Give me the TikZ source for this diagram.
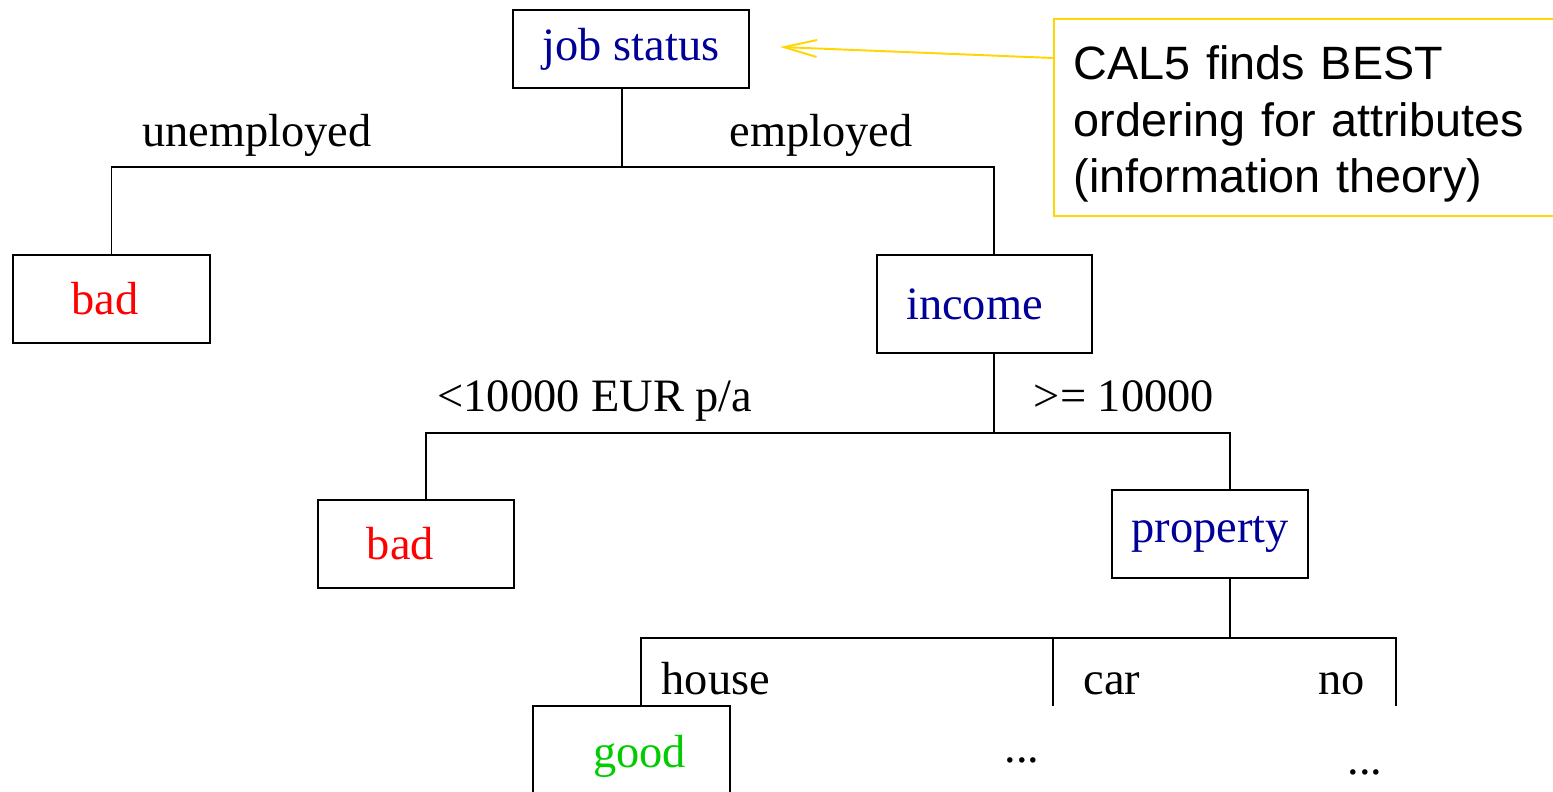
\documentclass[tikz,border=0pt]{standalone}
\usepackage{fontspec}
\setmainfont{Liberation Serif}
\newfontfamily\calfont{Liberation Sans}
\usetikzlibrary{arrows.meta,positioning}

\definecolor{jobblue}{RGB}{0,0,153}
\definecolor{goodgreen}{RGB}{0,204,0}
\definecolor{calyellow}{RGB}{255,214,0}

\begin{document}
\begin{tikzpicture}[x=0.01cm,y=0.01cm,
  font=\fontsize{13.2}{16}\selectfont,
  box/.style={draw,line width=0.6pt,minimum width=1.97cm,minimum height=0.88cm,inner sep=0pt},
  edge/.style={line width=0.45pt},
  lbl/.style={inner sep=0pt,anchor=base},
  callbox/.style={draw=calyellow,line width=0.55pt,align=left,text width=4.87cm,inner xsep=0.2cm,
    minimum height=1.97cm,font=\calfont\fontsize{13.3}{16.1}\selectfont},
  callarrow/.style={-{Straight Barb[length=0.33cm,width=0.17cm]},draw=calyellow,line width=0.55pt}]
  \useasboundingbox (0,0) rectangle (1553,-792);
  % tree nodes
  \node[box,minimum width=2.36cm,minimum height=0.78cm,text=jobblue] (js) at (631,-49) {job status};
  \node[box,text=red] (bad1) at (111.5,-299) {bad\hspace*{0.13cm}};
  \node[box,minimum width=2.15cm,minimum height=0.98cm,text=jobblue] (inc) at (984.5,-304) {income\hspace*{0.2cm}};
  \node[box,minimum width=1.96cm,text=red] (bad2) at (416,-544) {bad\hspace*{0.31cm}};
  \node[box,minimum width=1.96cm,text=jobblue] (prop) at (1210,-534) {property};
  \node[box,minimum height=1cm,text=goodgreen] (good) at (631.5,-756) {\hspace*{0.16cm}good};
  \node[lbl] (dots1) at (1022,-763) {...};
  \node[lbl] (dots2) at (1365,-775) {...};
  % branch labels
  \node[lbl] (unemp) at (257,-147) {unemployed};
  \node[lbl] (emp) at (821,-147) {employed};
  \node[lbl] (low) at (595,-412) {<10000 EUR p/a};
  \node[lbl] (high) at (1124,-412) {>= 10000};
  \node[lbl,anchor=base west] (house) at (661,-695) {house};
  \node[lbl,anchor=base west] (car) at (1083,-695) {car};
  \node[lbl,anchor=base west] (no) at (1318,-695) {no};
  % connectors
  \draw[edge] ([xshift=-0.09cm]js.south) -- ++(0,-78) coordinate (j1);
  \draw[edge] (bad1.north) |- (j1) -| ([xshift=0.095cm]inc.north);
  \draw[edge] ([xshift=0.095cm]inc.south) -- ++(0,-79) coordinate (j2);
  \draw[edge] ([xshift=0.1cm]bad2.north) |- (j2) -| ([xshift=0.2cm]prop.north);
  \draw[edge] ([xshift=0.2cm]prop.south) -- ++(0,-59) coordinate (j3);
  \coordinate (carend) at (1053,-706);
  \coordinate (noend) at (1396,-706);
  \draw[edge] ([xshift=0.095cm]good.north) |- (j3) -| (noend);
  \draw[edge] (carend) -- (carend |- j3);
  % callout
  \node[callbox,anchor=north west] (cal) at (1053,-18)
    {\rule{0pt}{13.4pt}CAL5 finds BEST\\ordering for attributes\\(information theory)};
  \coordinate (tipjs) at (780,-47);
  \draw[callarrow] ([yshift=-0.4cm]cal.north west) -- (tipjs);
\end{tikzpicture}
\end{document}
